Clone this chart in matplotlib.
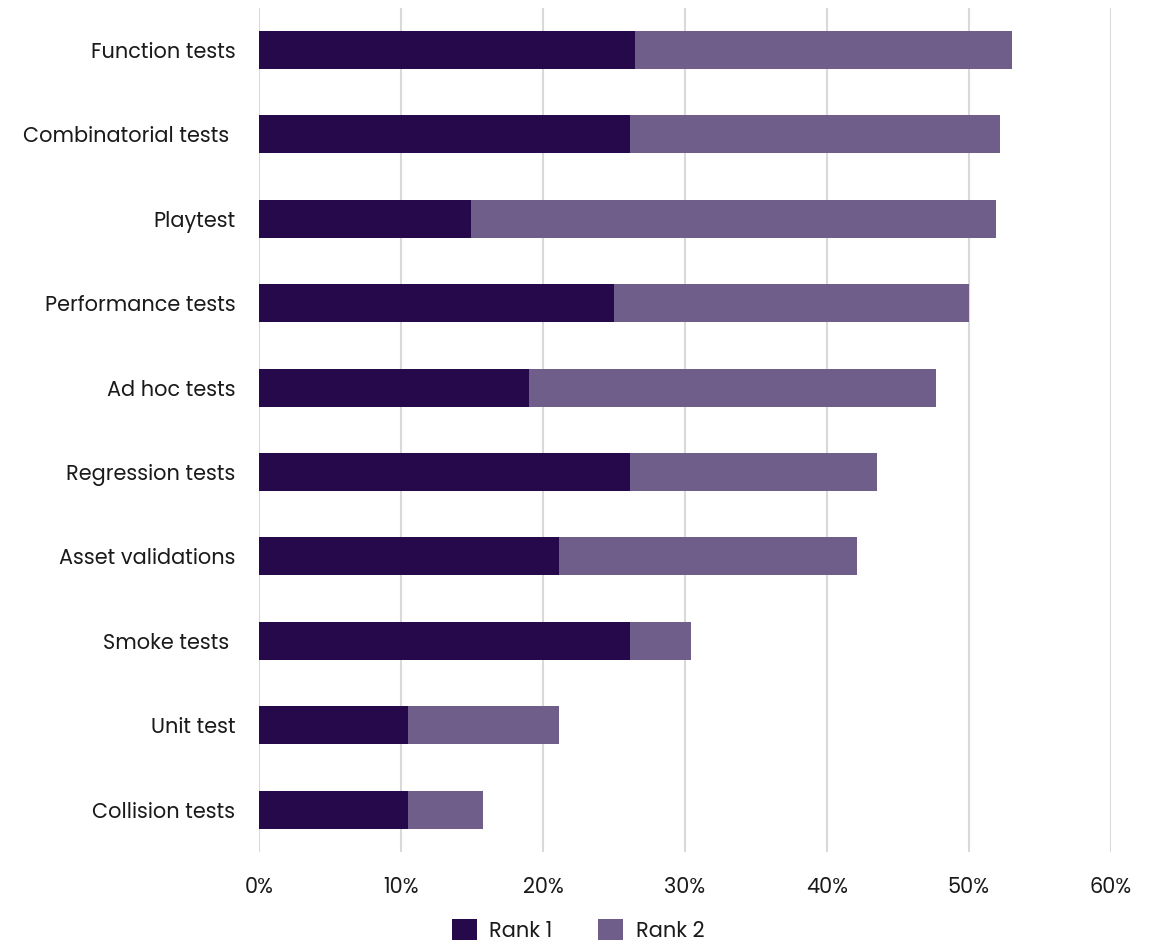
import matplotlib
matplotlib.use("Agg")
import matplotlib.pyplot as plt
from matplotlib.ticker import FuncFormatter

categories = ["Function tests", "Combinatorial tests ", "Playtest", "Performance tests",
              "Ad hoc tests", "Regression tests", "Asset validations", "Smoke tests ",
              "Unit test", "Collision tests"]
rank1 = [26.5, 26.1, 14.9, 25.0, 19.0, 26.1, 21.1, 26.1, 10.5, 10.5]
rank2 = [26.5, 26.1, 37.0, 25.0, 28.7, 17.4, 21.0, 4.3, 10.6, 5.3]

C1 = "#26094a"
C2 = "#705e8a"
INK = "#1a1a1a"
GRID = "#d9d9d9"

plt.rcParams["font.family"] = ["Poppins", "Open Sans", "DejaVu Sans"]

fig = plt.figure(figsize=(11.56, 9.42), dpi=100)
ax = fig.add_axes([0.224, 0.0955, 0.737, 0.8965])

ypos = list(range(len(categories)))
ax.barh(ypos, rank1, height=0.45, color=C1, label="Rank 1", zorder=3)
ax.barh(ypos, rank2, left=rank1, height=0.45, color=C2, label="Rank 2", zorder=3)

ax.set_xlim(0, 60)
ax.set_ylim(len(categories) - 0.5, -0.5)
ax.set_yticks(ypos)
ax.set_yticklabels(categories)
ax.set_xticks(range(0, 61, 10))
ax.xaxis.set_major_formatter(FuncFormatter(lambda v, p: f"{v:.0f}%"))
ax.grid(axis="x", color=GRID, lw=1.5, zorder=0)
for s in ax.spines.values():
    s.set_visible(False)
ax.tick_params(axis="both", length=0, labelsize=15, colors=INK)
ax.tick_params(axis="y", pad=17)
ax.tick_params(axis="x", pad=18)

fig.legend(loc="center", bbox_to_anchor=(0.5, 0.012), ncol=2, frameon=False,
           fontsize=15, handlelength=1.2, handleheight=1.2, columnspacing=2.2,
           handletextpad=0.6, labelcolor=INK)

fig.savefig("out.png", dpi=100, facecolor="white")
